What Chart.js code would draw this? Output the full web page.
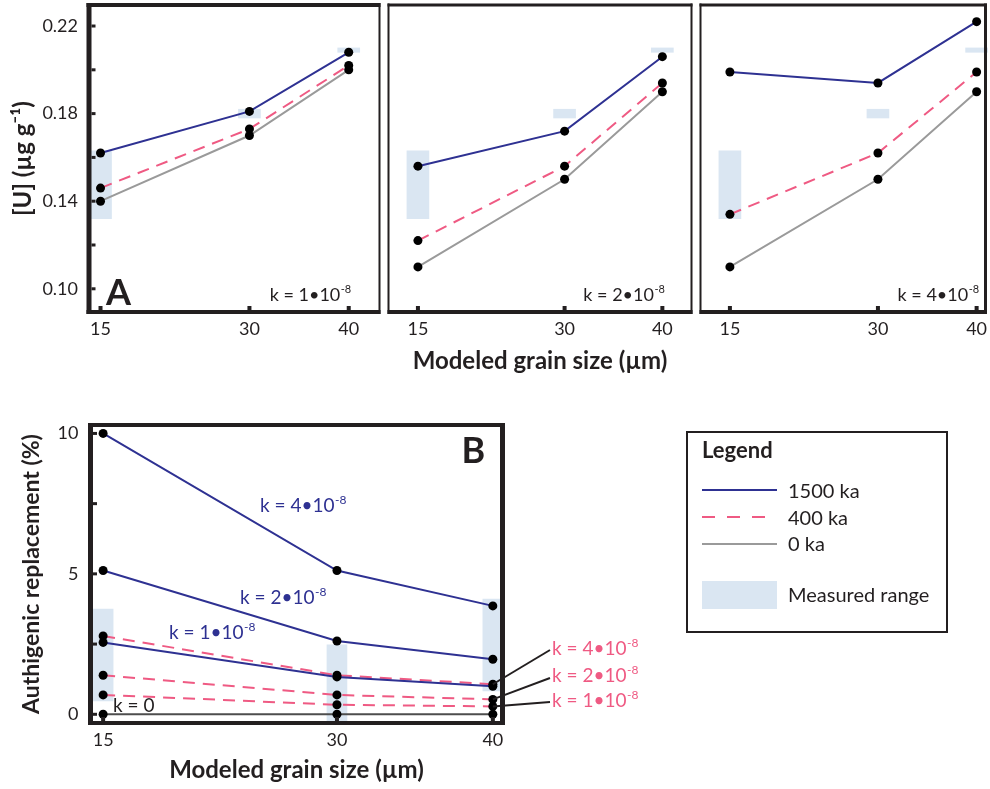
<!DOCTYPE html>
<html lang="en">
<head>
<meta charset="UTF-8">
<title>Modeled [U] and authigenic replacement vs grain size</title>
<script src="https://cdn.jsdelivr.net/npm/chart.js"></script>
<style>
  body { margin: 0; background: #fff; }
  #wrap { position: relative; width: 990px; height: 789px; }
  canvas { position: absolute; }
</style>
</head>
<body>
<div id="wrap">
  <canvas id="a1" style="left:0;top:0" width="384" height="380"></canvas>
  <canvas id="a2" style="left:384px;top:0" width="312" height="380"></canvas>
  <canvas id="a3" style="left:696px;top:0" width="294" height="380"></canvas>
  <canvas id="b" style="left:0;top:400px" width="990" height="389"></canvas>
</div>
<script>
// ---- data ----
const grainSizes = [15, 30, 40];

// panel A: [U] (µg/g) for the three rate constants
const uK1_1500 = [0.162, 0.181, 0.208];
const uK1_400  = [0.146, 0.173, 0.202];
const uK1_0    = [0.140, 0.170, 0.200];
const uK2_1500 = [0.156, 0.172, 0.206];
const uK2_400  = [0.122, 0.156, 0.194];
const uK2_0    = [0.110, 0.150, 0.190];
const uK4_1500 = [0.199, 0.194, 0.222];
const uK4_400  = [0.134, 0.162, 0.199];
const uK4_0    = [0.110, 0.150, 0.190];
const uMeasured = [[0.132, 0.163], [0.178, 0.182], [0.208, 0.210]];
const uTicks = [0.10, 0.12, 0.14, 0.16, 0.18, 0.20, 0.22];

// panel B: authigenic replacement (%)
const repK4_1500 = [10.0, 5.12, 3.86];
const repK2_1500 = [5.12, 2.61, 1.96];
const repK1_1500 = [2.56, 1.33, 1.00];
const repK4_400  = [2.79, 1.39, 1.07];
const repK2_400  = [1.39, 0.69, 0.53];
const repK1_400  = [0.69, 0.34, 0.28];
const repK0      = [0, 0, 0];
const repMeasured = [[0.48, 3.75], [-0.3, 2.47], [0.83, 4.10]];
const repTicks = [0, 2.5, 5, 7.5, 10];

const kLabels = ['k = 1\u202210', 'k = 2\u202210', 'k = 4\u202210'];

// ---- styles ----
const INK = '#231f20';
const BLUE = '#2e3192';
const PINK = '#ef5a83';
const GRAY = '#9a9a9a';
const BOX = '#dae6f2';
const FONT = 'Lato, "Open Sans", sans-serif';

Chart.defaults.font.family = FONT;
Chart.defaults.color = INK;

const pts = arr => grainSizes.map((g, i) => ({ x: g, y: arr[i] }));

function lineSet(data, color, dashed, order) {
  return {
    type: 'line', data: pts(data), borderColor: color, borderWidth: 2,
    borderDash: dashed ? [12, 8] : [], pointRadius: 4.5, pointBackgroundColor: '#000',
    pointBorderWidth: 0, fill: false, tension: 0, clip: false, order: order
  };
}
function boxSet(ranges, thick) {
  return {
    type: 'bar', data: grainSizes.map((g, i) => ({ x: g, y: ranges[i] })),
    backgroundColor: BOX, barThickness: thick, order: 10, clip: false
  };
}

// text with a superscript tail, e.g. 10^-8
function supText(ctx, base, sup, x, y, size, color, align) {
  ctx.save();
  ctx.fillStyle = color;
  ctx.textBaseline = 'alphabetic';
  ctx.font = size + 'px ' + FONT;
  const w1 = ctx.measureText(base).width;
  ctx.font = Math.round(size * 0.62) + 'px ' + FONT;
  const w2 = ctx.measureText(sup).width;
  let x0 = align === 'right' ? x - w1 - w2 : x;
  ctx.font = size + 'px ' + FONT;
  ctx.textAlign = 'left';
  ctx.fillText(base, x0, y);
  ctx.font = Math.round(size * 0.62) + 'px ' + FONT;
  ctx.fillText(sup, x0 + w1 + 0.5, y - size * 0.42);
  ctx.restore();
}

// frame around the plot area plus short inward tick marks
const framePlugin = {
  id: 'frame',
  afterDraw(chart, args, o) {
    const { ctx, chartArea: a } = chart;
    ctx.save();
    ctx.fillStyle = INK;
    const t = o.top, b = o.bottom, l = o.left, r = o.right;
    if (t) ctx.fillRect(a.left - l / 2, a.top - t / 2, a.right - a.left + l / 2 + r / 2, t);
    if (b) ctx.fillRect(a.left - l / 2, a.bottom - b / 2, a.right - a.left + l / 2 + r / 2, b);
    if (l) ctx.fillRect(a.left - l / 2, a.top - t / 2, l, a.bottom - a.top + t / 2 + b / 2);
    if (r) ctx.fillRect(a.right - r / 2, a.top - t / 2, r, a.bottom - a.top + t / 2 + b / 2);
    const xs = chart.scales.x;
    xs.ticks.forEach(tk => {
      const px = xs.getPixelForValue(tk.value);
      ctx.fillRect(px - 2, a.bottom - b / 2 - 4, 4, 4);
    });
    if (o.yTicks) {
      const ys = chart.scales.y;
      ys.ticks.forEach(tk => {
        const py = ys.getPixelForValue(tk.value);
        ctx.fillRect(a.left + l / 2, py - 1.5, 4, 3);
      });
    }
    ctx.restore();
  }
};

const TITLE_FONT = { size: 24, weight: 'bold' };

function xScale(min, max, height, title) {
  return {
    type: 'linear', min: min, max: max, offset: false,
    afterBuildTicks: s => { s.ticks = grainSizes.map(v => ({ value: v })); },
    afterFit: s => { s.height = height; s.paddingLeft = 0; s.paddingRight = 0; },
    grid: { display: false, drawTicks: false },
    border: { display: false },
    ticks: { font: { size: 18 }, color: INK, padding: 6, autoSkip: false, maxRotation: 0 },
    title: title ? { display: true, text: 'Modeled grain size (\u00b5m)', font: TITLE_FONT, color: INK, padding: { bottom: 4 } } : { display: false }
  };
}
function uScale(show) {
  return {
    display: show, min: 0.0894, max: 0.2296,
    afterBuildTicks: s => { s.ticks = uTicks.map(v => ({ value: v })); },
    afterFit: s => { s.width = show ? 89 : 0; s.paddingTop = 0; s.paddingBottom = 0; },
    grid: { display: false, drawTicks: false },
    border: { display: false },
    ticks: {
      font: { size: 18 }, color: INK, padding: 11,
      callback: v => (Math.round(v * 100) % 4 === 2 ? v.toFixed(2) : '')
    },
    title: { display: true, text: '[U] (\u00b5g g\u207b\u00b9)', font: TITLE_FONT, color: INK, padding: { top: 9 } }
  };
}

function panelA(id, k, s1500, s400, s0, xmin, xmax, opts) {
  const notes = {
    id: 'notesA',
    afterDatasetsDraw(chart) {
      const { ctx, chartArea: a } = chart;
      const xr = chart.scales.x.getPixelForValue(40);
      supText(ctx, kLabels[k], '-8', xr + 2, a.bottom - 11, 18, INK, 'right');
      if (opts.letter) {
        ctx.save();
        ctx.font = 'bold 36px ' + FONT;
        ctx.fillStyle = INK;
        ctx.fillText(opts.letter, a.left + 17, a.bottom - 7);
        ctx.restore();
      }
    }
  };
  return new Chart(document.getElementById(id), {
    type: 'line',
    data: {
      datasets: [
        lineSet(s1500, BLUE, false, 1),
        lineSet(s400, PINK, true, 2),
        lineSet(s0, GRAY, false, 3),
        boxSet(uMeasured, 22)
      ]
    },
    options: {
      responsive: false, animation: false,
      layout: { padding: { top: 5, right: opts.padRight || 0, left: 0, bottom: 0 } },
      scales: { x: xScale(xmin, xmax, 68, opts.title), y: uScale(opts.yAxis) },
      plugins: { legend: { display: false }, tooltip: { enabled: false }, frame: opts.frame }
    },
    plugins: [framePlugin, notes]
  });
}

panelA('a1', 0, uK1_1500, uK1_400, uK1_0, 13.84, 43.1,
  { letter: 'A', yAxis: true, frame: { left: 5, top: 4, bottom: 4, right: 2, yTicks: true } });
panelA('a2', 1, uK2_1500, uK2_400, uK2_0, 11.99, 42.98,
  { title: true, yAxis: false, frame: { left: 2, top: 3, bottom: 4, right: 2 } });
panelA('a3', 2, uK4_1500, uK4_400, uK4_0, 12.02, 40.9,
  { yAxis: false, padRight: 3, frame: { left: 2, top: 3, bottom: 4, right: 3 } });

// ---- panel B ----
const notesB = {
  id: 'notesB',
  afterDatasetsDraw(chart) {
    const { ctx, chartArea: a, scales: { x, y } } = chart;
    ctx.save();
    ctx.font = 'bold 36px ' + FONT;
    ctx.fillStyle = INK;
    ctx.fillText('B', a.right - 41, a.top + 38);
    ctx.restore();
    supText(ctx, kLabels[2], '-8', 260, 111.7, 19, BLUE);
    supText(ctx, kLabels[1], '-8', 240, 204, 19, BLUE);
    supText(ctx, kLabels[0], '-8', 169, 239, 19, BLUE);
    supText(ctx, 'k = 0', '', 113, 312, 19, INK);

    // leader lines to the 400 ka curves at 40 µm
    const ends = [[repK4_400, 250, 255, kLabels[2]], [repK2_400, 278, 282, kLabels[1]], [repK1_400, 302, 307, kLabels[0]]];
    ctx.save();
    ctx.strokeStyle = INK;
    ctx.lineWidth = 2;
    ends.forEach(e => {
      ctx.beginPath();
      ctx.moveTo(x.getPixelForValue(40), y.getPixelForValue(e[0][2]));
      ctx.lineTo(550, e[1]);
      ctx.stroke();
    });
    ctx.restore();
    ends.forEach(e => supText(ctx, e[3], '-8', 552, e[2], 19, PINK));
  },
  afterDraw(chart) {
    // legend box
    const ctx = chart.ctx;
    ctx.save();
    ctx.strokeStyle = INK;
    ctx.lineWidth = 2;
    ctx.strokeRect(687, 32, 260, 200);
    ctx.fillStyle = INK;
    ctx.font = 'bold 22px ' + FONT;
    ctx.fillText('Legend', 702, 58);
    const rows = [['1500 ka', BLUE, [], 90, 98], ['400 ka', PINK, [13, 12], 117, 125], ['0 ka', GRAY, [], 144, 151]];
    rows.forEach(r => {
      ctx.strokeStyle = r[1];
      ctx.setLineDash(r[2]);
      ctx.beginPath();
      ctx.moveTo(702, r[3]);
      ctx.lineTo(777, r[3]);
      ctx.stroke();
      ctx.font = '20px ' + FONT;
      ctx.fillStyle = INK;
      ctx.fillText(r[0], 788, r[4]);
    });
    ctx.setLineDash([]);
    ctx.fillStyle = BOX;
    ctx.fillRect(702, 181, 75, 28);
    ctx.fillStyle = INK;
    ctx.fillText('Measured range', 788, 202);
    ctx.restore();
  }
};

new Chart(document.getElementById('b'), {
  type: 'line',
  data: {
    datasets: [
      lineSet(repK4_1500, BLUE, false, 1),
      lineSet(repK2_1500, BLUE, false, 1),
      lineSet(repK1_1500, BLUE, false, 1),
      lineSet(repK4_400, PINK, true, 2),
      lineSet(repK2_400, PINK, true, 2),
      lineSet(repK1_400, PINK, true, 2),
      Object.assign(lineSet(repK0, '#4d4d4d', false, 3), { borderWidth: 2 }),
      boxSet(repMeasured, 20)
    ]
  },
  options: {
    responsive: false, animation: false,
    layout: { padding: { top: 25, right: 487.5, left: 0, bottom: 0 } },
    scales: {
      x: Object.assign(xScale(14.19, 40.62, 66, true), {}),
      y: {
        min: -0.31, max: 10.3,
        afterBuildTicks: s => { s.ticks = repTicks.map(v => ({ value: v })); },
        afterFit: s => { s.width = 90.5; s.paddingTop = 0; s.paddingBottom = 0; },
        grid: { display: false, drawTicks: false },
        border: { display: false },
        ticks: { font: { size: 18 }, color: INK, padding: 12, callback: v => (v % 5 === 0 ? String(v) : '') },
        title: { display: true, text: 'Authigenic replacement (%)', font: { size: 23, weight: 'bold' }, color: INK, padding: { top: 18 } }
      }
    },
    plugins: { legend: { display: false }, tooltip: { enabled: false },
      frame: { left: 5, top: 4, bottom: 4, right: 5, yTicks: true } }
  },
  plugins: [framePlugin, notesB]
});
</script>
</body>
</html>
